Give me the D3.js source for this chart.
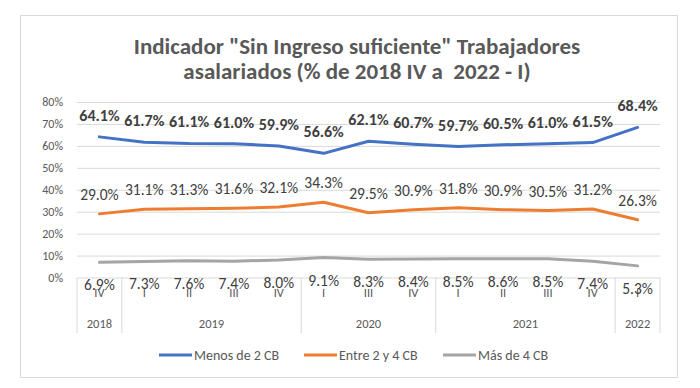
<!DOCTYPE html>
<html>
<head>
<meta charset="utf-8">
<script src="https://cdn.jsdelivr.net/npm/d3@7"></script>
<style>
html,body{margin:0;padding:0;background:#fff;}
svg{display:block;}
text{font-family:Carlito, Calibri, Lato, "Open Sans", sans-serif;}
</style>
</head>
<body>
<svg id="chart" width="700" height="388"></svg>
<script>
const quarters = ["IV","I","II","III","IV","I","III","IV","I","II","III","IV","I"];
const yearGroups = [["2018",1],["2019",4],["2020",3],["2021",4],["2022",1]];
const menos2 = [64.1,61.7,61.1,61.0,59.9,56.6,62.1,60.7,59.7,60.5,61.0,61.5,68.4];
const entre2y4 = [29.0,31.1,31.3,31.6,32.1,34.3,29.5,30.9,31.8,30.9,30.5,31.2,26.3];
const mas4 = [6.9,7.3,7.6,7.4,8.0,9.1,8.3,8.4,8.5,8.6,8.5,7.4,5.3];
const seriesNames = ["Menos de 2 CB","Entre 2 y 4 CB","Más de 4 CB"];
const yTicks = [0,10,20,30,40,50,60,70,80];

const colors = ["#4472C4","#ED7D31","#A5A5A5"];
const series = [menos2, entre2y4, mas4];

const svg = d3.select("#chart");
const plot = {left:77, right:660, top:102, bottom:277.5};

// outer border
svg.append("rect").attr("x",20.5).attr("y",15.5).attr("width",657).attr("height",362)
  .attr("fill","#fff").attr("stroke","#D9D9D9").attr("stroke-width",1);

// title
const title = svg.append("text").attr("text-anchor","middle").attr("fill","#595959")
  .attr("font-size",23).attr("font-weight","bold");
title.append("tspan").attr("x",357).attr("y",54).text('Indicador "Sin Ingreso suficiente" Trabajadores');
title.append("tspan").attr("x",357).attr("y",79).text("asalariados (% de 2018 IV a\u00a0\u00a02022 - I)");

const idx = d3.range(quarters.length);
const x = d3.scaleBand().domain(idx).range([plot.left, plot.right]);
const y = d3.scaleLinear().domain([0,80]).range([plot.bottom, plot.top]);

// gridlines
const yAxis = d3.axisLeft(y).tickValues(yTicks).tickSize(-(plot.right-plot.left)).tickFormat(d=>d+"%").tickPadding(14);
const gy = svg.append("g").attr("transform",`translate(${plot.left},0)`).call(yAxis);
gy.select(".domain").remove();
gy.selectAll(".tick line").attr("stroke","#D9D9D9").attr("stroke-width",1);
gy.selectAll(".tick text").attr("fill","#595959").attr("font-size",12).attr("font-family","Carlito, Calibri, Lato, sans-serif");

// category axis: vertical separators
let cum = 0;
const sepPositions = [0];
yearGroups.forEach(g=>{cum+=g[1]; sepPositions.push(cum);});
const bw = x.step();
svg.append("g").selectAll("line").data(sepPositions).join("line")
  .attr("x1",d=>plot.left + d*bw).attr("x2",d=>plot.left + d*bw)
  .attr("y1",plot.bottom).attr("y2",333)
  .attr("stroke","#D9D9D9").attr("stroke-width",1);

// quarter labels
svg.append("g").selectAll("text").data(idx).join("text")
  .attr("x",i=>x(i)+bw/2).attr("y",297).attr("text-anchor","middle")
  .attr("fill","#595959").attr("font-size",12.5).text(i=>quarters[i]);

// year labels
cum = 0;
const yearData = yearGroups.map(g=>{const s=cum; cum+=g[1]; return {name:g[0], start:s, end:cum};});
svg.append("g").selectAll("text").data(yearData).join("text")
  .attr("x",d=>plot.left + (d.start+d.end)/2*bw).attr("y",328).attr("text-anchor","middle")
  .attr("fill","#595959").attr("font-size",12.5).text(d=>d.name);

// lines
const line = d3.line().x((d,i)=>x(i)+bw/2).y(d=>y(d));
series.forEach((s,k)=>{
  svg.append("path").datum(s).attr("d",line).attr("fill","none")
    .attr("stroke",colors[k]).attr("stroke-width",3).attr("stroke-linejoin","round").attr("stroke-linecap","round");
});

// data labels
const fmt = d=>d.toFixed(1)+"%";
svg.append("g").selectAll("text").data(menos2).join("text")
  .attr("x",(d,i)=>x(i)+bw/2).attr("y",d=>y(d)-16).attr("text-anchor","middle")
  .attr("fill","#404040").attr("font-size",16).attr("font-weight","bold").text(fmt);
svg.append("g").selectAll("text").data(entre2y4).join("text")
  .attr("x",(d,i)=>x(i)+bw/2).attr("y",d=>y(d)-14).attr("text-anchor","middle")
  .attr("fill","#404040").attr("font-size",15.5).text(fmt);
svg.append("g").selectAll("text").data(mas4).join("text")
  .attr("x",(d,i)=>x(i)+bw/2).attr("y",d=>y(d)+28).attr("text-anchor","middle")
  .attr("fill","#404040").attr("font-size",15.5).text(fmt);

// legend
const legendX = [159, 304, 443];
const lg = svg.append("g");
seriesNames.forEach((n,k)=>{
  lg.append("line").attr("x1",legendX[k]).attr("x2",legendX[k]+33).attr("y1",355).attr("y2",355)
    .attr("stroke",colors[k]).attr("stroke-width",3);
  lg.append("text").attr("x",legendX[k]+35).attr("y",360).attr("fill","#595959")
    .attr("font-size",14).text(n);
});
</script>
</body>
</html>
